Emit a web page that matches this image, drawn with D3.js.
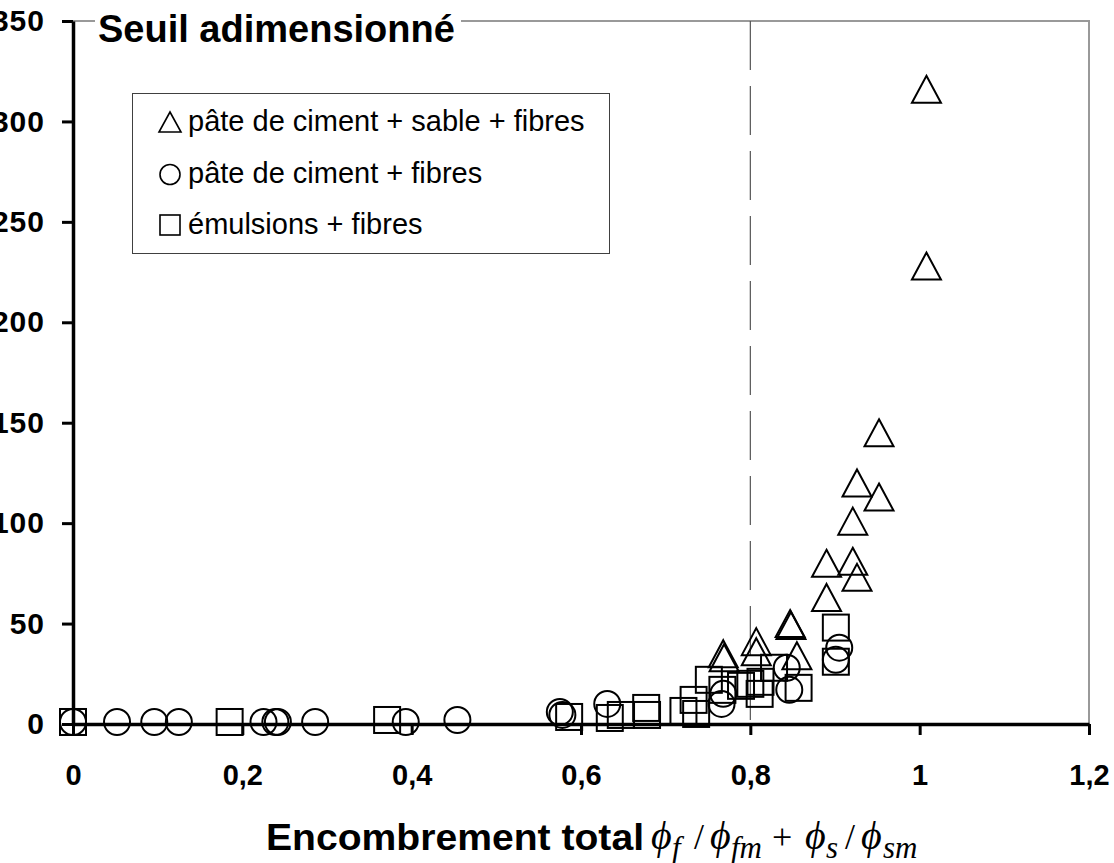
<!DOCTYPE html>
<html>
<head>
<meta charset="utf-8">
<script src="https://cdn.jsdelivr.net/npm/d3@7"></script>
<style>
  body { margin: 0; background: #fff; }
  svg { display: block; }
  text { font-family: "Liberation Sans", Arial, sans-serif; }
</style>
</head>
<body>
<svg id="chart" width="1114" height="863"></svg>
<script>
// axis ticks
const xTicks = [0, 0.2, 0.4, 0.6, 0.8, 1, 1.2];
const yTicks = [0, 50, 100, 150, 200, 250, 300, 350];
const thresholdX = 0.8;

const seriesNames = ['pâte de ciment + sable + fibres', 'pâte de ciment + fibres', 'émulsions + fibres'];

// [encombrement total, seuil adimensionné]
const pateSableFibres = [
  [0.768, 35], [0.769, 33], [0.807, 41], [0.807, 36], [0.847, 50], [0.848, 49],
  [0.855, 34], [0.890, 63], [0.890, 80], [0.921, 81], [0.926, 73], [0.921, 101],
  [0.926, 120], [0.952, 113], [0.952, 145], [1.008, 228], [1.008, 316]
];
const pateFibres = [
  [0, 1], [0.052, 1], [0.096, 1], [0.125, 1], [0.225, 1], [0.239, 1], [0.242, 1],
  [0.286, 1], [0.393, 1], [0.454, 2], [0.575, 6], [0.578, 4.5], [0.631, 10],
  [0.768, 15], [0.766, 10], [0.843, 28], [0.846, 17], [0.905, 38], [0.901, 32]
];
const emulsionsFibres = [
  [0, 1], [0.185, 1], [0.371, 2], [0.586, 3.5], [0.634, 3], [0.647, 4.5],
  [0.677, 8], [0.678, 4.5], [0.721, 6.5], [0.733, 12], [0.736, 5], [0.751, 22],
  [0.767, 17], [0.789, 19], [0.800, 20], [0.811, 15], [0.812, 21], [0.828, 28],
  [0.857, 18], [0.901, 48], [0.901, 31]
];

const svg = d3.select('#chart');

const x = d3.scaleLinear().domain([0, 1.2]).range([73, 1089]);
const y = d3.scaleLinear().domain([0, 350]).range([724, 21]);

const fmt = d => String(d).replace('.', ',');

// plot frame (top + right, grey)
svg.append('path')
  .attr('d', `M${x(0)},${y(350)}H${x(1.2)}V${y(0)}`)
  .attr('fill', 'none')
  .attr('stroke', '#999')
  .attr('stroke-width', 2);

// dashed line at 0.8
svg.append('line')
  .attr('x1', x(thresholdX)).attr('x2', x(thresholdX))
  .attr('y1', y(350)).attr('y2', y(0))
  .attr('stroke', '#555')
  .attr('stroke-width', 1.2)
  .attr('stroke-dasharray', '49,16');

// markers
const tri = (cx, cy, w, h) => `M${cx},${cy - h / 2}L${cx + w / 2},${cy + h / 2}L${cx - w / 2},${cy + h / 2}Z`;
const marks = svg.append('g').attr('fill', 'none').attr('stroke', '#000').attr('stroke-width', 2);

marks.selectAll('path.tri').data(pateSableFibres).join('path')
  .attr('class', 'tri')
  .attr('d', d => tri(x(d[0]), y(d[1]), 29, 27));

marks.selectAll('circle').data(pateFibres).join('circle')
  .attr('cx', d => x(d[0]))
  .attr('cy', d => y(d[1]))
  .attr('r', 13);

marks.selectAll('rect').data(emulsionsFibres).join('rect')
  .attr('x', d => x(d[0]) - 13)
  .attr('y', d => y(d[1]) - 13)
  .attr('width', 26)
  .attr('height', 26);

// axes
const yAxis = svg.append('g')
  .attr('transform', `translate(${x(0)},0)`)
  .call(d3.axisLeft(y).tickValues(yTicks).tickFormat(fmt).tickSize(11).tickSizeOuter(0).tickPadding(17));

const xAxis = svg.append('g')
  .attr('transform', `translate(0,${y(0)})`)
  .call(d3.axisBottom(x).tickValues(xTicks).tickFormat(fmt).tickSize(11).tickSizeOuter(0).tickPadding(29));

[yAxis, xAxis].forEach(a => {
  a.select('.domain').attr('stroke', '#000').attr('stroke-width', 3.5);
  a.selectAll('.tick line').attr('stroke', '#000').attr('stroke-width', 3);
  a.selectAll('.tick text')
    .attr('fill', '#000')
    .style('font-family', '"Liberation Sans", Arial, sans-serif')
    .style('font-size', '29px')
    .style('font-weight', 'bold');
});
// y labels are a bit wider in the original, so the hundreds digit runs off the left edge
yAxis.selectAll('.tick text').style('font-size', '30px').attr('x', -28).style('letter-spacing', '1px');

// chart title sitting on the frame
svg.append('rect')
  .attr('x', 95).attr('y', 0)
  .attr('width', 366).attr('height', 46)
  .attr('fill', '#fff');
svg.append('text')
  .attr('x', 98).attr('y', 42)
  .style('font-size', '38px')
  .style('font-weight', 'bold')
  .text('Seuil adimensionné');

// legend
const legend = svg.append('g');
legend.append('rect')
  .attr('x', 132.5).attr('y', 93.5)
  .attr('width', 477).attr('height', 160)
  .attr('fill', '#fff')
  .attr('stroke', '#404040')
  .attr('stroke-width', 1);

const rowY = [131, 182.5, 234];
legend.selectAll('text').data(seriesNames).join('text')
  .attr('x', 188)
  .attr('y', (d, i) => rowY[i])
  .style('font-size', '29px')
  .text(d => d);

const lm = legend.append('g').attr('fill', 'none').attr('stroke', '#000').attr('stroke-width', 1.6);
lm.append('path').attr('d', tri(170, rowY[0] - 9, 22, 20));
lm.append('circle').attr('cx', 170).attr('cy', rowY[1] - 8).attr('r', 10);
lm.append('rect').attr('x', 160).attr('y', rowY[2] - 19).attr('width', 20).attr('height', 20);

// x axis title
svg.append('text')
  .attr('x', 266).attr('y', 850)
  .attr('textLength', 378)
  .attr('lengthAdjust', 'spacingAndGlyphs')
  .style('font-size', '36px')
  .style('font-weight', 'bold')
  .text('Encombrement total');

const formula = svg.append('text')
  .attr('y', 849)
  .style('font-family', '"Liberation Serif", "Times New Roman", serif')
  .style('font-style', 'italic')
  .style('font-size', '40px');
const pieces = [
  { t: '\u03D5', x: 651 },
  { t: 'f', x: 672, sub: true },
  { t: '/', x: 694, plain: true },
  { t: '\u03D5', x: 710 },
  { t: 'fm', x: 731, sub: true },
  { t: '+', x: 772, plain: true },
  { t: '\u03D5', x: 805 },
  { t: 's', x: 826, sub: true },
  { t: '/', x: 845, plain: true },
  { t: '\u03D5', x: 861 },
  { t: 'sm', x: 883, sub: true }
];
pieces.forEach(p => {
  formula.append('tspan')
    .attr('x', p.x)
    .attr('y', p.sub ? 858 : 849)
    .style('font-size', p.sub ? '31px' : (p.plain ? '36px' : '40px'))
    .style('font-style', p.plain ? 'normal' : 'italic')
    .text(p.t);
});
</script>
</body>
</html>
